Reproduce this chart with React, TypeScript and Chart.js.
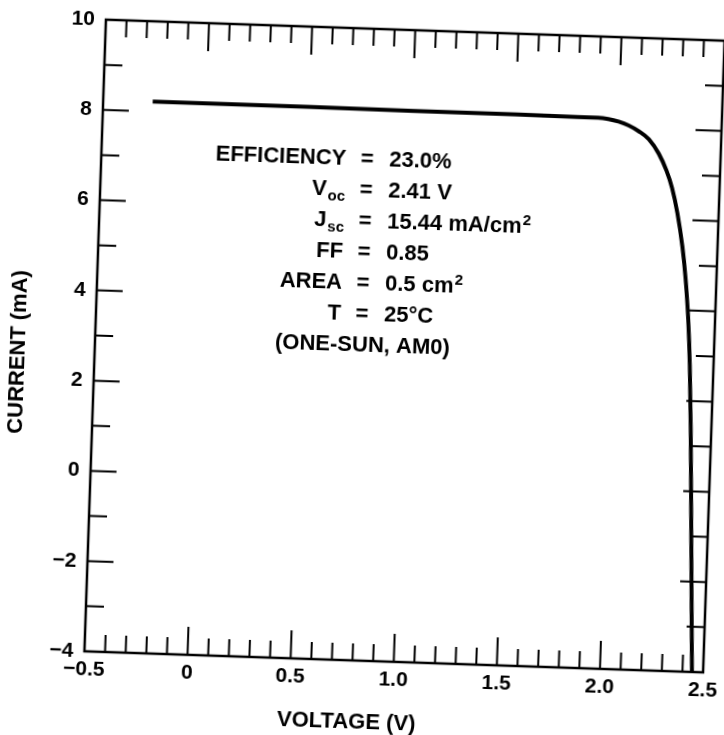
import React, { useEffect, useRef } from 'react';
import { Chart, registerables } from 'chart.js';

Chart.register(...registerables);

const voltage = [-0.26, 0.0, 0.5, 1.0, 1.5, 1.8, 1.9, 1.95, 2.0, 2.05, 2.1, 2.15, 2.2, 2.24, 2.27, 2.3, 2.33, 2.35, 2.37, 2.385, 2.4, 2.412, 2.429, 2.446, 2.45];
const current = [8.22, 8.22, 8.22, 8.21, 8.21, 8.2, 8.2, 8.18, 8.13, 8.05, 7.93, 7.76, 7.45, 7.08, 6.7, 6.15, 5.4, 4.72, 3.8, 2.8, 1.39, 0.0, -2.0, -4.0, -4.5];

const xTickValues = [-0.5, 0, 0.5, 1.0, 1.5, 2.0, 2.5];
const xTickLabels = ['\u22120.5', '0', '0.5', '1.0', '1.5', '2.0', '2.5'];
const yTickValues = [-4, -2, 0, 2, 4, 6, 8, 10];
const yTickLabels = ['\u22124', '\u22122', '0', '2', '4', '6', '8', '10'];

const xTitle = 'VOLTAGE (V)';
const yTitle = 'CURRENT (mA)';

const rowLabels = ['EFFICIENCY', 'V', 'J', 'FF', 'AREA', 'T'];
const rowSubs = ['', 'oc', 'sc', '', '', ''];
const rowValues = ['23.0%', '2.41 V', '15.44 mA/cm', '0.85', '0.5 cm', '25\u00b0C'];
const rowSups = ['', '', '2', '', '2', ''];
const conditionsNote = '(ONE-SUN, AM0)';

const FONT = '"Liberation Sans", Arial, Helvetica, sans-serif';
const CANVAS_W = 760;
const CANVAS_H = 760;

const framePlugin = {
  id: 'frameTicks',
  afterDatasetsDraw(chart: any) {
    const { ctx, chartArea: a, scales } = chart;
    const x = scales.x;
    const y = scales.y;
    ctx.save();
    ctx.strokeStyle = '#000';
    ctx.lineCap = 'butt';
    ctx.lineWidth = 2;
    ctx.beginPath();
    for (let i = 1; i < 30; i++) {
      const v = -0.5 + i * 0.1;
      const px = x.getPixelForValue(v);
      const len = i % 5 === 0 ? 28 : 17;
      ctx.moveTo(px, a.top);
      ctx.lineTo(px, a.top + len);
      ctx.moveTo(px, a.bottom);
      ctx.lineTo(px, a.bottom - len);
    }
    for (let j = -3; j < 10; j++) {
      const py = y.getPixelForValue(j);
      const len = j % 2 === 0 ? 26 : 18;
      ctx.moveTo(a.left, py);
      ctx.lineTo(a.left + len, py);
      ctx.moveTo(a.right, py);
      ctx.lineTo(a.right - len, py);
    }
    ctx.stroke();
    ctx.lineWidth = 2.5;
    ctx.strokeRect(a.left, a.top, a.right - a.left, a.bottom - a.top);
    ctx.restore();
  },
  afterDraw(chart: any) {
    const { ctx } = chart;
    ctx.save();
    ctx.fillStyle = '#000';
    ctx.textBaseline = 'alphabetic';
    const main = `bold 22px ${FONT}`;
    const small = `bold 15px ${FONT}`;
    const labelRight = 340;
    const eqX = 361;
    const valueLeft = 383;
    const baselines = [167, 198, 229, 260, 291, 322];
    for (let i = 0; i < rowLabels.length; i++) {
      const b = baselines[i];
      ctx.font = main;
      const wMain = ctx.measureText(rowLabels[i]).width;
      ctx.font = small;
      const wSub = rowSubs[i] ? ctx.measureText(rowSubs[i]).width + 1 : 0;
      const start = labelRight - wMain - wSub;
      ctx.font = main;
      ctx.textAlign = 'left';
      ctx.fillText(rowLabels[i], start, b);
      if (rowSubs[i]) {
        ctx.font = small;
        ctx.fillText(rowSubs[i], start + wMain + 1, b + 5);
      }
      ctx.font = main;
      ctx.textAlign = 'center';
      ctx.fillText('=', eqX, b);
      ctx.textAlign = 'left';
      ctx.fillText(rowValues[i], valueLeft, b);
      if (rowSups[i]) {
        const wv = ctx.measureText(rowValues[i]).width;
        ctx.font = small;
        ctx.fillText(rowSups[i], valueLeft + wv + 1, b - 8);
      }
    }
    ctx.font = main;
    ctx.textAlign = 'left';
    ctx.fillText(conditionsNote, 275, 353);

    // axis titles
    ctx.font = `bold 22px ${FONT}`;
    ctx.textAlign = 'center';
    ctx.textBaseline = 'middle';
    ctx.fillText(xTitle, 359, 724);
    ctx.translate(19, 365);
    ctx.rotate(-Math.PI / 2);
    ctx.fillText(yTitle, 0, 0);
    ctx.restore();
  },
};

export default function App() {
  const ref = useRef<HTMLCanvasElement | null>(null);
  useEffect(() => {
    if (!ref.current) return;
    const points = voltage.map((v, i) => ({ x: v, y: current[i] }));
    const tickFont = { family: FONT, size: 21, weight: 'bold' as const };
    const chart = new Chart(ref.current, {
      type: 'scatter',
      data: {
        datasets: [
          {
            data: points,
            showLine: true,
            borderColor: '#000',
            borderWidth: 4,
            pointRadius: 0,
            cubicInterpolationMode: 'monotone',
            fill: false,
          },
        ],
      },
      plugins: [framePlugin],
      options: {
        responsive: false,
        animation: false,
        layout: { padding: { top: 30, right: CANVAS_W - 714, left: 0, bottom: 0 } },
        plugins: { legend: { display: false }, tooltip: { enabled: false } },
        scales: {
          x: {
            type: 'linear',
            position: 'bottom',
            min: -0.5,
            max: 2.5,
            grid: { display: false, drawTicks: false },
            border: { display: false },
            afterBuildTicks: (s: any) => {
              s.ticks = xTickValues.map((v) => ({ value: v }));
            },
            afterFit: (s: any) => {
              s.height = CANVAS_H - 662;
              s.paddingLeft = 0;
              s.paddingRight = 0;
            },
            ticks: {
              autoSkip: false,
              maxRotation: 0,
              padding: 6,
              color: '#000',
              font: tickFont,
              callback: (v: any) => xTickLabels[xTickValues.indexOf(Number(v))] ?? '',
            },
          },
          y: {
            type: 'linear',
            min: -4,
            max: 10,
            grid: { display: false, drawTicks: false },
            border: { display: false },
            afterBuildTicks: (s: any) => {
              s.ticks = yTickValues.map((v) => ({ value: v }));
            },
            afterFit: (s: any) => {
              s.width = 95;
              s.paddingTop = 0;
              s.paddingBottom = 0;
            },
            ticks: {
              padding: 11,
              color: '#000',
              font: tickFont,
              callback: (v: any) => yTickLabels[yTickValues.indexOf(Number(v))] ?? '',
            },
          },
        },
      },
    } as any);
    return () => chart.destroy();
  }, []);
  return (
    <div style={{ position: 'fixed', left: 0, top: 0, width: 724, height: 735, overflow: 'hidden', background: '#fff' }}>
      <canvas
        ref={ref}
        width={CANVAS_W}
        height={CANVAS_H}
        style={{
          display: 'block',
          width: CANVAS_W,
          height: CANVAS_H,
          transform: 'rotate(1.95deg)',
          transformOrigin: '404px 346px',
        }}
      />
    </div>
  );
}
